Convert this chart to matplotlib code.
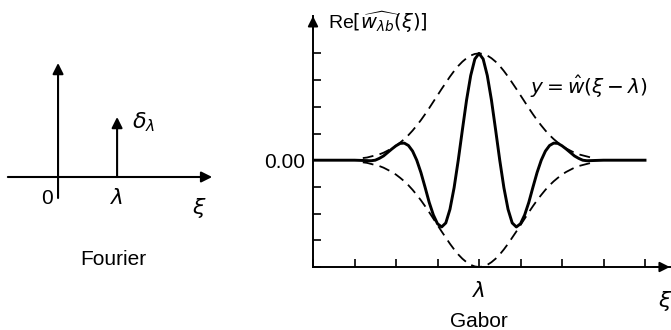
import numpy as np
import matplotlib
matplotlib.use("Agg")
import matplotlib.pyplot as plt

plt.rcParams['font.family'] = ['Liberation Sans', 'DejaVu Sans']
plt.rcParams['mathtext.fontset'] = 'dejavusans'

# right half of the curves (x >= lambda); mirrored below
env_x = [0.0, 0.1, 0.2, 0.3, 0.4, 0.5, 0.6, 0.7, 0.8, 0.9, 1.0, 1.1, 1.2, 1.3, 1.4,
         1.5, 1.6, 1.7, 1.8, 1.9, 2.0, 2.1, 2.2, 2.3, 2.4, 2.5, 2.6, 2.7, 2.8]
env_y = [4.00, 3.98, 3.92, 3.82, 3.69, 3.53, 3.34, 3.13, 2.90, 2.67, 2.43, 2.19, 1.95,
         1.72, 1.50, 1.30, 1.11, 0.94, 0.79, 0.66, 0.54, 0.44, 0.36, 0.28, 0.22, 0.18,
         0.14, 0.10, 0.08]

gab_x = [0.0, 0.1, 0.2, 0.3, 0.4, 0.5, 0.6, 0.7, 0.8, 0.9, 1.0, 1.1, 1.2, 1.3, 1.4,
         1.5, 1.6, 1.7, 1.8, 1.9, 2.0, 2.1, 2.2, 2.3, 2.4, 2.5, 2.6, 3.0, 4.0]
gab_y = [4.00, 3.79, 3.17, 2.25, 1.14, 0.00, -1.03, -1.84, -2.35, -2.50, -2.38, -2.05,
         -1.58, -1.01, -0.46, 0.00, 0.34, 0.55, 0.64, 0.63, 0.54, 0.42, 0.29, 0.16, 0.07,
         0.00, -0.02, 0.0, 0.0]

xticks = [-4, -3, -2, -1, 0, 1, 2, 3, 4]
yticks = [-4, -3, -2, -1, 0, 1, 2, 3, 4]

delta_pos = 1.0
delta_height = 1.0


def mirror(x, y):
    x = np.asarray(x)
    y = np.asarray(y)
    return np.concatenate([-x[:0:-1], x]), np.concatenate([y[:0:-1], y])


W, H = 671, 330
fig = plt.figure(figsize=(W / 100, H / 100), dpi=100)

# ---- left panel: Fourier ----
ax1 = fig.add_axes([0.18 / W, (H - 261) / H, 235 / W, (261 - 45) / H])
ax1.set_xlim(-0.98, 3.0)
ax1.set_ylim(-1.4, 2.2)
ax1.axis('off')
arr = dict(arrowstyle='-|>', color='k', lw=1.5, mutation_scale=16, shrinkA=0, shrinkB=0)
ax1.annotate('', xy=(2.61, 0), xytext=(-0.85, 0), arrowprops=arr)
ax1.annotate('', xy=(0, 1.9), xytext=(0, -0.35), arrowprops=arr)
ax1.annotate('', xy=(delta_pos, delta_height), xytext=(delta_pos, 0), arrowprops=arr)
ax1.text(-0.19, -0.35, '0', fontsize=15, ha='center', va='center')
ax1.text(delta_pos, -0.35, r'$\lambda$', fontsize=15.5, ha='center', va='center')
ax1.text(2.4, -0.52, r'$\xi$', fontsize=16, ha='center', va='center')
ax1.text(1.25, 0.92, r'$\delta_\lambda$', fontsize=16, ha='left', va='center')
ax1.text(0.93, -1.38, 'Fourier', fontsize=15, ha='center', va='center')

# ---- right panel: Gabor ----
ux, uy = 41.5, 26.7
ax2 = fig.add_axes([313 / W, (H - 267) / H, 8.6 * ux / W, 9.4 * uy / H])
ax2.set_xlim(-4.0, 4.6)
ax2.set_ylim(-4.0, 5.4)
for s in ['top', 'right']:
    ax2.spines[s].set_visible(False)
for s in ['left', 'bottom']:
    ax2.spines[s].set_linewidth(1.4)

ex, ey = mirror(env_x, env_y)
gx, gy = mirror(gab_x, gab_y)
ax2.plot(ex, ey, color='k', lw=1.3, ls=(0, (6, 3.5)))
ax2.plot(ex, -ey, color='k', lw=1.3, ls=(0, (6, 3.5)))
ax2.plot(gx, gy, color='k', lw=2.1)

ax2.set_xticks(xticks)
ax2.set_xticklabels(['' if t != 0 else r'$\lambda$' for t in xticks], fontsize=15.5)
ax2.set_yticks(yticks)
ax2.set_yticklabels(['' if t != 0 else '0.00' for t in yticks], fontsize=15)
ax2.tick_params(direction='in', length=6, width=1.2, pad=6)
ax2.tick_params(axis='x', pad=10)

arr2 = dict(arrowstyle='-|>', color='k', lw=1.4, mutation_scale=15, shrinkA=0, shrinkB=0)
ax2.annotate('', xy=(4.6, -4), xytext=(4.2, -4), arrowprops=arr2, annotation_clip=False)
ax2.annotate('', xy=(-4, 5.4), xytext=(-4, 4.9), arrowprops=arr2, annotation_clip=False)

ax2.text(-3.64, 5.17, r'Re$[\widehat{w_{\lambda b}}(\xi)]$', fontsize=14, ha='left', va='center')
ax2.text(1.23, 2.73, r'$y = \hat{w}(\xi - \lambda)$', fontsize=14.5, ha='left', va='center')
ax2.text(4.48, -5.28, r'$\xi$', fontsize=16, ha='center', va='center')
ax2.text(0.0, -6.03, 'Gabor', fontsize=15, ha='center', va='center')

fig.savefig('out.png', dpi=100)
